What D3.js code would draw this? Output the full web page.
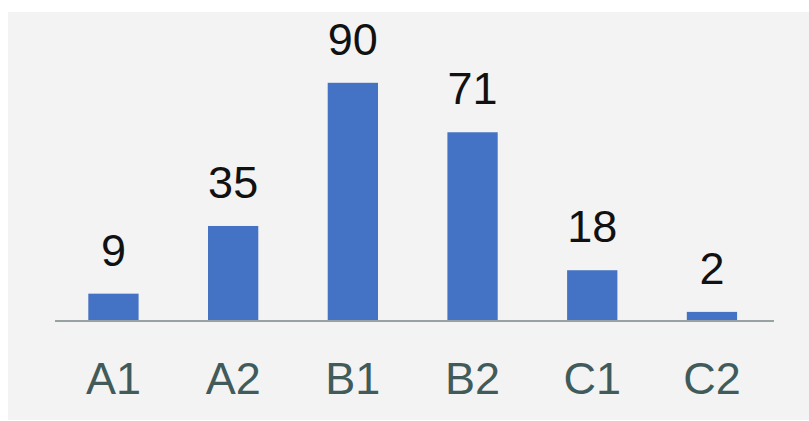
<!DOCTYPE html>
<html>
<head>
<meta charset="utf-8">
<script src="https://cdn.jsdelivr.net/npm/d3@7"></script>
<style>
html,body{margin:0;padding:0;background:#ffffff;}
svg{display:block;}
</style>
</head>
<body>
<svg id="chart" width="809" height="421"></svg>
<script>
const categories = ["A1", "A2", "B1", "B2", "C1", "C2"];
const values = [9, 35, 90, 71, 18, 2];

const W = 809, H = 421;
const svg = d3.select("#chart");

// panel background
svg.append("rect")
  .attr("x", 8).attr("y", 12)
  .attr("width", W - 8).attr("height", H - 13)
  .attr("fill", "#f3f3f3");

const axisY = 321;
const x = d3.scaleBand()
  .domain(categories)
  .range([53.6, 771.8])
  .paddingInner(0.58)
  .paddingOuter(0.29);

const y = d3.scaleLinear()
  .domain([-1.5, 90])
  .range([axisY, 82.8]);

// bars
svg.append("g").selectAll("rect")
  .data(values)
  .join("rect")
  .attr("x", (d, i) => x(categories[i]))
  .attr("width", x.bandwidth())
  .attr("y", d => y(d))
  .attr("height", d => y(-1.5) - y(d))
  .attr("fill", "#4472c4");

// axis
const xAxis = d3.axisBottom(x).tickSize(0).tickPadding(0);
const gx = svg.append("g").attr("transform", `translate(0,${axisY})`).call(xAxis);
gx.select(".domain").attr("d", "M55,0H774").attr("stroke", "#98a2a2").attr("stroke-width", 2);
gx.selectAll(".tick text")
  .attr("dy", null)
  .attr("y", 394 - axisY)
  .attr("font-family", "'Liberation Sans', Arial, sans-serif")
  .attr("font-size", 45)
  .attr("fill", "#415a5a");

// value labels
svg.append("g").selectAll("text")
  .data(values)
  .join("text")
  .attr("x", (d, i) => x(categories[i]) + x.bandwidth() / 2)
  .attr("y", d => y(d) - 28)
  .attr("text-anchor", "middle")
  .attr("font-family", "'Liberation Sans', Arial, sans-serif")
  .attr("font-size", 45)
  .attr("fill", "#111111")
  .text(d => d);
</script>
</body>
</html>
